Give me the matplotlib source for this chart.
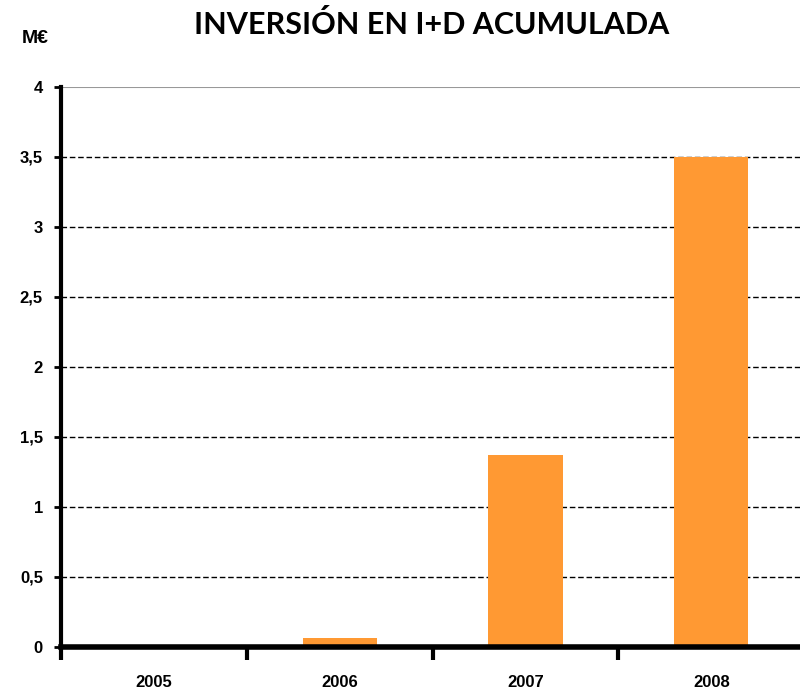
import matplotlib.pyplot as plt
import numpy as np

years = ['2005', '2006', '2007', '2008']
inversion = [0.0, 0.065, 1.37, 3.5]
yticks = [0, 0.5, 1, 1.5, 2, 2.5, 3, 3.5, 4]
ytick_labels = ['0', '0,5', '1', '1,5', '2', '2,5', '3', '3,5', '4']

plt.rcParams['font.family'] = ['Liberation Sans', 'DejaVu Sans']

fig = plt.figure(figsize=(8, 6.95), dpi=100)
ax = fig.add_axes([0.07625, 0.0691, 0.929, 0.8058])

x = np.arange(len(years))
ax.bar(x, inversion, width=0.4, color='#FF9933', zorder=3)

ax.set_xlim(-0.5, len(years) - 0.5)
ax.set_ylim(0, 4)
ax.set_yticks(yticks)
ax.set_yticklabels(ytick_labels, fontsize=12, fontweight='bold')
ax.set_xticks(x)
ax.set_xticklabels(years, fontsize=12, fontweight='bold')
ax.set_xticks(np.arange(len(years) + 1) - 0.5, minor=True)
ax.tick_params(axis='x', which='major', length=0, pad=20)
ax.tick_params(axis='x', which='minor', length=9, width=3, direction='out')
ax.tick_params(axis='y', length=5, width=2, pad=8)

# lineas de rejilla
for yv in yticks[1:-1]:
    ax.axhline(yv, color='black', linestyle=(0, (4, 2)), linewidth=1, zorder=1)
ax.axhline(4, color='#999999', linewidth=1.5, zorder=1)

for s in ['top', 'right']:
    ax.spines[s].set_visible(False)
ax.spines['left'].set_linewidth(3)
ax.spines['bottom'].set_linewidth(4)
ax.spines['bottom'].set_zorder(4)

fig.text(0.54, 0.965, 'INVERSIÓN EN I+D ACUMULADA', ha='center', va='center',
         fontsize=22, fontweight='bold', family=['Lato', 'DejaVu Sans'])
fig.text(0.044, 0.945, 'M€', ha='center', va='center', fontsize=14, fontweight='bold')

fig.savefig('out.png', dpi=100)
